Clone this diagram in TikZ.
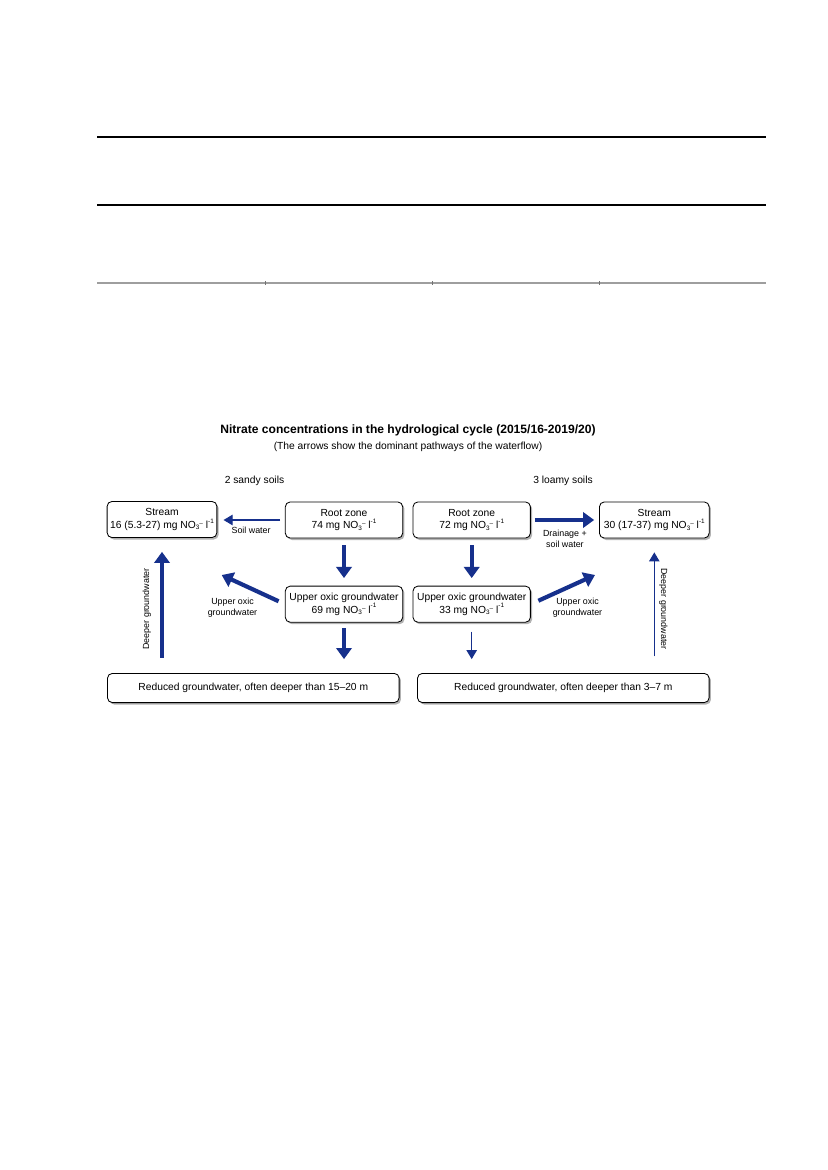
\documentclass[tikz,border=0pt]{standalone}
\usepackage{fontspec}
\setmainfont{Liberation Sans}
\usetikzlibrary{arrows.meta,shadows,positioning}
\definecolor{flowblue}{RGB}{22,48,140}
\newcommand{\tinyidx}[2]{\raisebox{#1}{\fontsize{4.6}{5}\selectfont #2}}
\newcommand{\nitrate}{NO\tinyidx{-0.3ex}{3}\tinyidx{0.55ex}{–} l\tinyidx{0.95ex}{-1}}
\begin{document}
\begin{tikzpicture}[x=0.72pt, y=-0.72pt,
    every node/.style={font=\fontsize{7.4}{9.1}\selectfont},
    box/.style={draw, rounded corners=3.5pt, fill=white, line width=0.6pt, align=center, inner sep=0pt, minimum height=26pt,
        drop shadow={shadow xshift=1.3pt, shadow yshift=-1.4pt, opacity=0.3, fill=black}},
    flow/.style={-{Triangle[length=8pt,width=11pt]}, line width=3pt, draw=flowblue},
    thinflow/.style={-{Triangle[length=6.5pt,width=7.5pt]}, line width=0.8pt, draw=flowblue},
    note/.style={font=\fontsize{6.4}{7.6}\selectfont, align=center, inner sep=1pt}]
    \path[fill=white] (0,0) rectangle (827,1170);
    \useasboundingbox (0,0) rectangle (827,1170);

    % Table rules
    \draw[line width=0.75pt] (97,137) -- (766,137);
    \draw[line width=0.75pt] (97,205) -- (766,205);
    \draw[line width=1.2pt, black!38] (97,283) -- (766,283);
    \foreach \x in {265,432,599}
        \draw[line width=0.6pt, black!55] (\x,281.5) -- (\x,285);

    % Headings
    \node (title) at (408,430) {\fontsize{8.7}{10}\selectfont\bfseries Nitrate concentrations in the hydrological cycle (2015/16-2019/20)};
    \node (subtitle) at (408,447) {(The arrows show the dominant pathways of the waterflow)};
    \node (sandy) at (254.5,481) {2 sandy soils};
    \node (loamy) at (563,481) {3 loamy soils};

    % Boxes
    \node[box, minimum width=79pt] (streamL) at (162,519.5) {Stream\\16 (5.3-27) mg \nitrate};
    \node[box, minimum width=84.5pt] (rootL) at (344,520) {Root zone\\74 mg \nitrate};
    \node[box, minimum width=84.5pt] (rootR) at (471.7,520) {Root zone\\72 mg \nitrate};
    \node[box, minimum width=79pt] (streamR) at (654.3,520) {Stream\\30 (17-37) mg \nitrate};
    \node[box, minimum width=84.5pt, below=34pt of rootL] (oxicL) {Upper oxic groundwater\\69 mg \nitrate};
    \node[box, minimum width=84.5pt, below=34pt of rootR] (oxicR) {Upper oxic groundwater\\33 mg \nitrate};
    \node[box, minimum width=210pt, minimum height=21pt] (deepL) at (253.3,688) {Reduced groundwater, often deeper than 15–20 m};
    \node[box, minimum width=210pt, minimum height=21pt] (deepR) at (563.3,688) {Reduced groundwater, often deeper than 3–7 m};

    % Free ends of the side arrows
    \coordinate (oxicLtip) at (221.7,575);
    \coordinate (oxicRtip) at (595,575);

    % Flows on sandy soils
    \draw[thinflow, shorten <=3.5pt, shorten >=4.5pt] (rootL.west) -- (rootL.west -| streamL.east) node[midway, below=4pt, note] {Soil water};
    \draw[flow, shorten <=5pt, shorten >=5.5pt] (rootL) -- (oxicL);
    \draw[flow, shorten <=4pt, shorten >=10pt] (oxicL.south) -- (oxicL.south |- deepL.north);
    \draw[flow, shorten <=5pt] (oxicL.west) -- (oxicLtip);
    \draw[flow, shorten <=11pt, shorten >=10pt] (streamL.south |- deepL.north) -- (streamL.south);
    \node[note, rotate=90] (deepLlabel) at (146.7,609) {Deeper groundwater};
    \node[note] (oxicLlabel) at (232.5,607.5) {Upper oxic\\groundwater};

    % Flows on loamy soils
    \draw[flow, shorten <=3pt, shorten >=3.5pt] (rootR.east) -- (rootR.east -| streamR.west) node[midway, below=5pt, note] {Drainage +\\soil water};
    \draw[flow, shorten <=5pt, shorten >=5.5pt] (rootR) -- (oxicR);
    \draw[thinflow, shorten <=6.5pt, shorten >=10pt] (oxicR.south) -- (oxicR.south |- deepR.north);
    \draw[flow, shorten <=6pt] (oxicR.east) -- (oxicRtip);
    \draw[thinflow, shorten <=12pt, shorten >=10pt] (streamR.south |- deepR.north) -- (streamR.south);
    \node[note, rotate=-90] (deepRlabel) at (663.3,609) {Deeper groundwater};
    \node[note] (oxicRlabel) at (577.5,607.5) {Upper oxic\\groundwater};
\end{tikzpicture}
\end{document}
